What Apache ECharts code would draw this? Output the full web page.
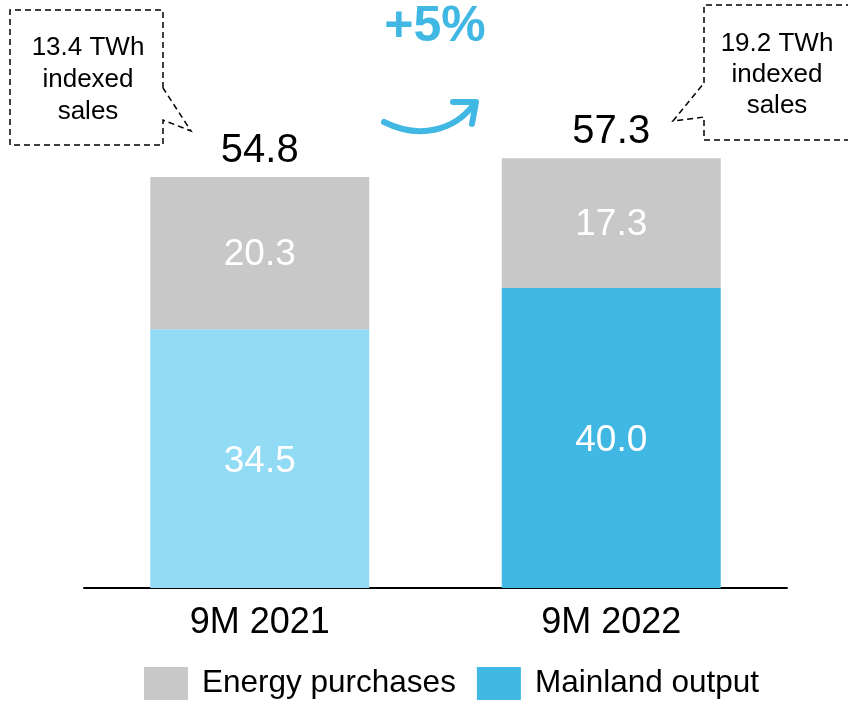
<!DOCTYPE html>
<html>
<head>
<meta charset="utf-8">
<script src="https://cdn.jsdelivr.net/npm/echarts@6/dist/echarts.min.js"></script>
<style>
  html, body { margin: 0; padding: 0; background: #fff; }
  #chart { width: 848px; height: 705px; }
</style>
</head>
<body>
<div id="chart"></div>
<script>
// chart data
var categories = ['9M 2021', '9M 2022'];
var mainlandOutput = [34.5, 40.0];
var energyPurchases = [20.3, 17.3];
var totals = [54.8, 57.3];
var mainlandColors = ['#92DBF4', '#41B8E4'];

var FONT = '"Liberation Sans", Arial, sans-serif';
var dash = [6, 4];

var chart = echarts.init(document.getElementById('chart'));

chart.setOption({
  animation: false,
  textStyle: { fontFamily: FONT },
  grid: { left: 84, right: 61, top: 138, height: 450 },
  legend: {
    data: [
      { name: 'Energy purchases', itemStyle: { color: '#C8C8C8' } },
      { name: 'Mainland output', itemStyle: { color: '#41B8E4' } }
    ],
    top: 667,
    left: 139,
    padding: [0, 5],
    itemWidth: 44,
    itemHeight: 33,
    itemGap: 21,
    icon: 'rect',
    textStyle: { fontSize: 31.5, color: '#000', fontFamily: FONT, padding: [8, 0, 0, 9] }
  },
  xAxis: {
    type: 'category',
    data: categories,
    axisLine: { lineStyle: { color: '#000', width: 2 } },
    axisTick: { show: false },
    axisLabel: { fontSize: 36, color: '#000', margin: 17, fontFamily: FONT }
  },
  yAxis: {
    type: 'value',
    min: 0,
    max: 60,
    show: false,
    splitLine: { show: false }
  },
  series: [
    {
      name: 'Mainland output',
      type: 'bar',
      stack: 'total',
      barWidth: 219,
      data: mainlandOutput.map(function (v, i) {
        return { value: v, itemStyle: { color: mainlandColors[i] } };
      }),
      label: {
        show: true,
        position: 'inside',
        color: '#fff',
        fontSize: 37,
        fontFamily: FONT,
        offset: [0, 3],
        formatter: function (p) { return p.value.toFixed(1); }
      }
    },
    {
      name: 'Energy purchases',
      type: 'bar',
      stack: 'total',
      barWidth: 219,
      itemStyle: { color: '#C8C8C8' },
      data: energyPurchases,
      label: {
        show: true,
        position: 'inside',
        color: '#fff',
        fontSize: 37,
        fontFamily: FONT,
        offset: [0, 2],
        formatter: function (p) { return p.value.toFixed(1); }
      }
    },
    {
      name: 'Total',
      type: 'bar',
      stack: 'total',
      barWidth: 219,
      data: totals.map(function () { return 0; }),
      itemStyle: { color: 'transparent' },
      label: {
        show: true,
        position: 'top',
        distance: 6,
        color: '#000',
        fontSize: 40,
        fontFamily: FONT,
        formatter: function (p) { return totals[p.dataIndex].toFixed(1); }
      }
    }
  ],
  graphic: [
    // left callout
    {
      type: 'polyline',
      shape: { points: [[163, 88], [163, 10], [10, 10], [10, 145], [163, 145], [163, 120], [191, 131], [163, 88]] },
      style: { fill: 'none', stroke: '#000', lineWidth: 1.5, lineDash: dash }
    },
    {
      type: 'text',
      x: 88, y: 80,
      style: {
        text: '13.4 TWh\nindexed\nsales',
        fill: '#000', font: '26px ' + FONT,
        align: 'center', verticalAlign: 'middle', lineHeight: 32
      }
    },
    // right callout
    {
      type: 'polyline',
      shape: { points: [[704, 83], [704, 5], [850, 5]] },
      style: { fill: 'none', stroke: '#000', lineWidth: 1.5, lineDash: dash }
    },
    {
      type: 'polyline',
      shape: { points: [[850, 140], [704, 140], [704, 117], [673, 121], [704, 83]] },
      style: { fill: 'none', stroke: '#000', lineWidth: 1.5, lineDash: dash }
    },
    {
      type: 'text',
      x: 777, y: 75,
      style: {
        text: '19.2 TWh\nindexed\nsales',
        fill: '#000', font: '26px ' + FONT,
        align: 'center', verticalAlign: 'middle', lineHeight: 31
      }
    },
    // growth marker
    {
      type: 'text',
      x: 435, y: 27,
      style: {
        text: '+5%',
        fill: '#41B8E4', font: 'bold 50px ' + FONT,
        align: 'center', verticalAlign: 'middle'
      }
    },
    {
      type: 'bezierCurve',
      shape: { x1: 384, y1: 122, x2: 474, y2: 104, cpx1: 420, cpy1: 140, cpx2: 455, cpy2: 130 },
      style: { fill: 'none', stroke: '#41B8E4', lineWidth: 6, lineCap: 'round' }
    },
    {
      type: 'polyline',
      shape: { points: [[453, 102], [476, 102], [472, 124]] },
      style: { fill: 'none', stroke: '#41B8E4', lineWidth: 6, lineCap: 'round', lineJoin: 'round' }
    }
  ]
});
</script>
</body>
</html>
